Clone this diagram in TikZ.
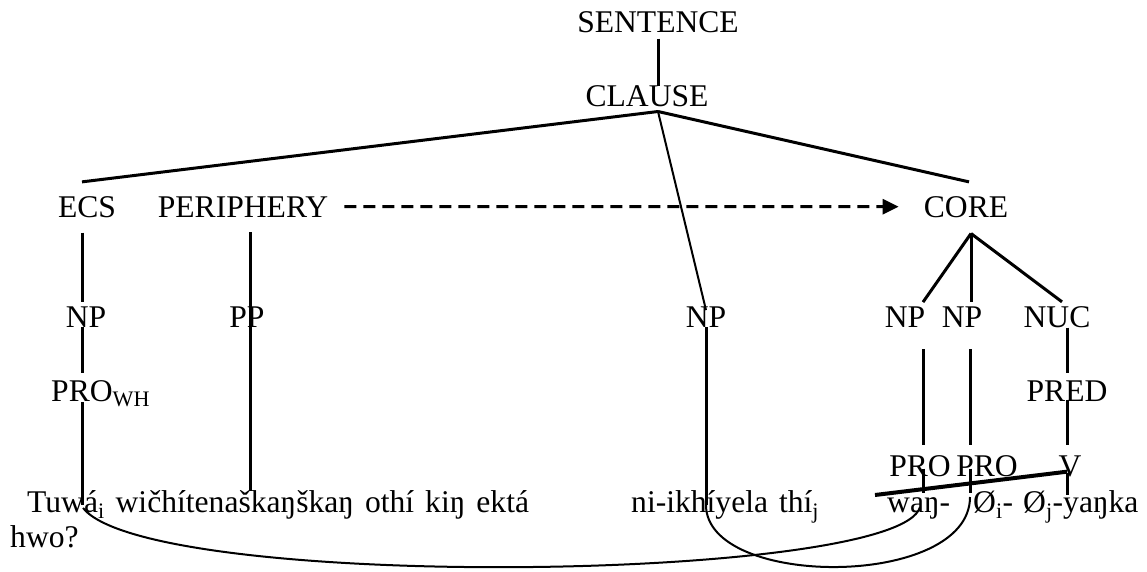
\documentclass[tikz,border=0pt]{standalone}
\usepackage{fontspec}
\setmainfont{Liberation Serif}
\usepackage{tikz}
\usetikzlibrary{arrows.meta,calc}

\tikzset{
  lbl/.style={inner sep=0pt, anchor=base, font=\fontsize{31.6}{36}\selectfont},
  words/.style={lbl, anchor=base west, execute at begin node={\spaceskip=11pt\relax}},
  branch/.style={line width=3pt},
  thinbranch/.style={line width=2pt},
  link/.style={line width=2pt},
}

\begin{document}
\begin{tikzpicture}[x=1pt, y=-1pt]
   \useasboundingbox (0,0) rectangle (1147,572);
   % labels of the tree
   \begin{scope}[every node/.style={lbl}]
    \node (sentence) at (658,33) {SENTENCE};
    \node (clause) at (647,107) {CLAUSE};
    \node (ecs) at (87,217) {ECS};
    \node (periphery) at (243,217) {PERIPHERY};
    \node (core) at (966,217) {CORE};
    \node (npecs) at (86,327) {NP};
    \node (pp) at (247,327) {PP};
    \node (npmid) at (706,327) {NP};
    \node (npone) at (905,327) {NP};
    \node (nptwo) at (962,327) {NP};
    \node (nuc) at (1057,327) {NUC};
    \node[anchor=base west] (prowh) at (51,401) {PRO\textsubscript{WH}};
    \node (pred) at (1067,401) {PRED};
    \node (proone) at (920,476) {PRO};
    \node (protwo) at (987,476) {PRO};
    \node (verb) at (1070,476) {V};
   \end{scope}
   % the sentence itself
   \begin{scope}[every node/.style={words}]
    \node (tuwa) at (27,512) {Tuwá\textsubscript{i} wičhítenaškaŋškaŋ othí kiŋ ektá};
    \node (hwo) at (10,547) {hwo?};
    \node (nik) at (631,512) {ni-ikhíyela thí\textsubscript{j}};
    \node (wan) at (887,512) {waŋ-};
    \node (zi) at (973,512) {Ø\textsubscript{i}-};
    \node (zj) at (1023,512) {Ø\textsubscript{j}-yaŋka};
   \end{scope}
   \coordinate (clausefoot) at ($(clause.south)+(11,4)$);
   \coordinate (corefoot) at ($(core.south)+(5,16)$);
   % branches
   \draw[branch] ($(sentence.south)+(0,5)$) -- (sentence.south |- clause.north);
   \draw[branch] (clausefoot) -- ($(ecs.north)+(-5,-14)$);
   \draw[branch] (clausefoot) -- ($(core.north)+(3,-14)$);
   \draw[thinbranch] (clausefoot) -- ($(npmid.north)+(0,4)$);
   \draw[branch, dash pattern=on 12pt off 7pt, -{Triangle[length=16pt,width=15pt]}]
      ($(periphery.east)+(16,0)$) -- ($(core.west)+(-25,0)$);
   \draw[branch] ($(ecs.south)+(-5,15)$) -- ($(npecs.north)+(-4,-4)$);
   \draw[branch] ($(npecs.south)+(-4,0)$) -- ($(npecs.south |- prowh.north)+(-4,-7)$);
   \draw[branch] ($(prowh.base west)+(31,1)$) -- ($(tuwa.base west)+(55,-7)$);
   \draw[branch] ($(periphery.south)+(7,15)$) -- ($(tuwa.base west)+(223,-21)$);
   \draw[branch] (npmid.south) -- ($(nik.base west)+(75,-7)$);
   \draw[branch] (corefoot) -- ($(npone.north)+(18,-4)$);
   \draw[branch] (corefoot) -- ($(nptwo.north)+(9,-4)$);
   \draw[branch] (corefoot) -- ($(nuc.north)+(5,-4)$);
   \draw[branch] ($(npone.south)+(18,22)$) -- ($(proone.north)+(3,-10)$);
   \draw[branch] ($(nptwo.south)+(8,22)$) -- ($(protwo.north)+(-17,-10)$);
   \draw[branch] ($(nuc.south)+(10,0)$) -- ($(pred.north)+(0,-7)$);
   \draw[branch] ($(pred.south)+(0,-1)$) -- ($(verb.north)+(-3,-10)$);
   \draw[branch] ($(proone.south)+(3,-8)$) -- ($(wan.base west)+(36,-19)$);
   \draw[branch] ($(protwo.south)+(-17,-8)$) -- ($(zi.base west)+(-3,-19)$);
   \draw[branch] ($(verb.south)+(-3,-4)$) -- ($(zj.base west)+(44,-17)$);
   \draw[line width=4pt] ($(wan.base west)+(-12,-17)$) -- ($(verb.south)+(-3,-5)$);
   % coreference links
   \draw[link] ($(tuwa.base west)+(56,-4)$) .. controls +(67,84) and +(-20,75) .. ($(wan.base west)+(33,-5)$);
   \draw[link] ($(nik.base west)+(75,-7)$) .. controls +(0,84) and +(0,92) .. ($(zi.base west)+(-3,-15)$);
\end{tikzpicture}
\end{document}
